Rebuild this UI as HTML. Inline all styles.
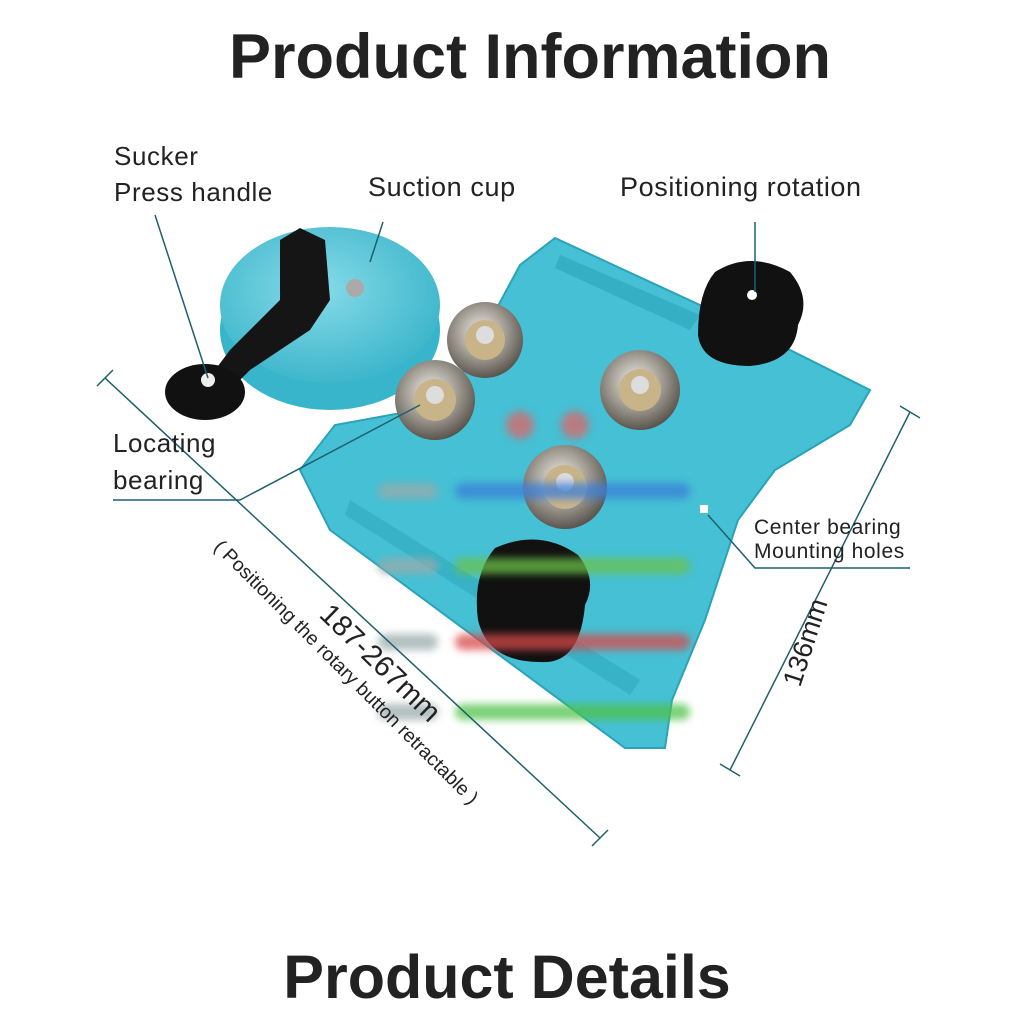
<!DOCTYPE html>
<html><head><meta charset="utf-8"><style>
html,body{margin:0;padding:0;background:#fff}
svg{display:block}
text{font-family:"Liberation Sans",sans-serif;fill:#222}
</style></head><body>
<svg width="1024" height="1024" viewBox="0 0 1024 1024" xmlns="http://www.w3.org/2000/svg">
<defs>
<radialGradient id="brg" cx="45%" cy="40%" r="60%"><stop offset="0" stop-color="#f0f0f0"/><stop offset="0.5" stop-color="#a9a49a"/><stop offset="1" stop-color="#5a554e"/></radialGradient>
<radialGradient id="cup" cx="45%" cy="40%" r="65%"><stop offset="0" stop-color="#86dbe8"/><stop offset="1" stop-color="#38b3c9"/></radialGradient>
<filter id="bl"><feGaussianBlur stdDeviation="4"/></filter>
</defs>
<text x="530" y="78" font-size="63" font-weight="bold" text-anchor="middle" fill="#2e2e2e">Product Information</text>
<text x="507" y="998" font-size="61" font-weight="bold" text-anchor="middle" fill="#2e2e2e">Product Details</text>

<!-- plate -->
<polygon points="300,470 335,425 445,405 520,265 555,238 700,305 870,390 850,425 775,470 738,520 705,620 672,700 665,748 625,748 330,530" fill="#45c0d4" stroke="#2aa3b8" stroke-width="2"/>
<polygon points="560,255 700,315 690,330 555,268" fill="#2aa3b8" opacity="0.6"/>
<polygon points="350,500 640,680 630,695 345,515" fill="#2aa3b8" opacity="0.5"/>
<rect x="700" y="505" width="8" height="8" fill="#fff"/>
<!-- suction cup -->
<ellipse cx="330" cy="330" rx="110" ry="80" fill="#38b5ca"/>
<ellipse cx="330" cy="305" rx="110" ry="78" fill="url(#cup)"/>
<!-- handle -->
<polygon points="280,240 300,228 325,240 330,300 310,330 250,370 225,395 200,390 230,350 280,300" fill="#151515"/>
<ellipse cx="205" cy="392" rx="40" ry="28" fill="#111"/>
<circle cx="208" cy="380" r="7" fill="#eee"/>
<circle cx="355" cy="288" r="9" fill="#aaa"/>
<!-- knobs -->
<path d="M715,272 Q750,250 790,272 Q812,298 798,325 Q795,362 750,366 Q702,366 698,335 Q698,292 715,272Z" fill="#111"/>
<circle cx="752" cy="295" r="5" fill="#fff"/>
<path d="M495,548 Q540,528 578,555 Q598,580 585,605 Q580,665 540,662 Q488,662 478,620 Q472,575 495,548Z" fill="#111"/>
<!-- bearings -->
<g><circle cx="485" cy="340" r="38" fill="url(#brg)"/><circle cx="485" cy="340" r="20" fill="#c9b48a"/><circle cx="485" cy="335" r="9" fill="#ddd"/></g>
<g><circle cx="435" cy="400" r="40" fill="url(#brg)"/><circle cx="435" cy="400" r="21" fill="#c9b48a"/><circle cx="435" cy="395" r="9" fill="#ddd"/></g>
<g><circle cx="640" cy="390" r="40" fill="url(#brg)"/><circle cx="640" cy="390" r="21" fill="#c9b48a"/><circle cx="640" cy="385" r="9" fill="#ddd"/></g>
<g><circle cx="565" cy="487" r="42" fill="url(#brg)"/><circle cx="565" cy="487" r="22" fill="#c9b48a"/><circle cx="565" cy="482" r="9" fill="#ddd"/></g>
<!-- watermark bars -->
<g filter="url(#bl)" opacity="0.75">
<rect x="378" y="483" width="60" height="16" rx="8" fill="#9aa"/><rect x="455" y="483" width="235" height="16" rx="8" fill="#3b7fd8"/>
<rect x="378" y="558" width="60" height="16" rx="8" fill="#9aa"/><rect x="455" y="558" width="235" height="16" rx="8" fill="#6cc24a"/>
<rect x="378" y="634" width="60" height="16" rx="8" fill="#9aa"/><rect x="455" y="634" width="235" height="16" rx="8" fill="#d94848"/>
<rect x="378" y="704" width="60" height="16" rx="8" fill="#9aa"/><rect x="455" y="704" width="235" height="16" rx="8" fill="#4fc24a"/>
<circle cx="520" cy="425" r="14" fill="#d66"/><circle cx="575" cy="425" r="14" fill="#d66"/>
</g>

<!-- leader lines -->
<g stroke="#1f5f6e" stroke-width="1.5" fill="none">
<line x1="155" y1="215" x2="208" y2="378"/>
<line x1="383" y1="222" x2="370" y2="262"/>
<line x1="755" y1="222" x2="755" y2="292"/>
<polyline points="113,500 240,500 420,405"/>
<polyline points="910,568 755,568 708,515"/>
<line x1="105" y1="378" x2="600" y2="838"/>
<line x1="97" y1="386" x2="113" y2="370"/>
<line x1="592" y1="846" x2="608" y2="830"/>
<line x1="910" y1="412" x2="730" y2="770"/>
<line x1="900" y1="406" x2="920" y2="418"/>
<line x1="720" y1="764" x2="740" y2="776"/>
</g>

<g letter-spacing="0.6">
<text x="114" y="165" font-size="26">Sucker</text>
<text x="114" y="201" font-size="26">Press handle</text>
<text x="368" y="196" font-size="27">Suction cup</text>
<text x="620" y="196" font-size="27">Positioning rotation</text>
<text x="113" y="452" font-size="26">Locating</text>
<text x="113" y="489" font-size="26">bearing</text>
<text x="754" y="534" font-size="21">Center bearing</text>
<text x="754" y="558" font-size="21">Mounting holes</text>
</g>
<text transform="translate(800,688) rotate(-72)" font-size="27">136mm</text>
<text transform="translate(318,616) rotate(44)" font-size="29">187-267mm</text>
<text transform="translate(213,548) rotate(45)" font-size="19.5">( Positioning the rotary button retractable )</text>
</svg>
</body></html>
